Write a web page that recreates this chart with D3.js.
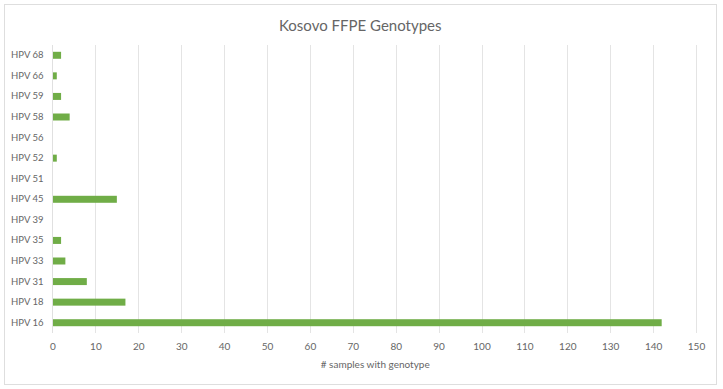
<!DOCTYPE html>
<html><head><meta charset="utf-8">
<script src="https://cdn.jsdelivr.net/npm/d3@7"></script>
<style>body{margin:0;background:#fff;} text{font-family:Lato,"Open Sans",sans-serif;}</style>
</head><body>
<svg id="c" width="723" height="389"></svg>
<script>
const categories = ["HPV 16","HPV 18","HPV 31","HPV 33","HPV 35","HPV 39","HPV 45","HPV 51","HPV 52","HPV 56","HPV 58","HPV 59","HPV 66","HPV 68"];
const values = [142,17,8,3,2,0,15,0,1,0,4,2,1,2];
const xTicks = [0,10,20,30,40,50,60,70,80,90,100,110,120,130,140,150];
const title = "Kosovo FFPE Genotypes";
const xTitle = "# samples with genotype";

(function(){
const svg = d3.select("#c");
const txt = "#666666";
svg.append("rect").attr("x",4.5).attr("y",4.5).attr("width",712).attr("height",380)
  .attr("fill","#fff").attr("stroke","#dedede");

const pL = 52.5, pR = 696, pT = 45, pB = 333;
const x = d3.scaleLinear().domain([0,150]).range([pL,pR]);
const y = d3.scaleBand().domain(categories.slice().reverse()).range([pT,pB]).paddingInner(0.66).paddingOuter(0.33);

svg.append("g").selectAll("line").data(xTicks.slice(1)).join("line")
  .attr("x1",d=>Math.round(x(d))+0.5).attr("x2",d=>Math.round(x(d))+0.5)
  .attr("y1",pT).attr("y2",pB).attr("stroke","#e4e4e4").attr("stroke-width",1);

svg.append("g").selectAll("rect").data(categories).join("rect")
  .attr("x",x(0)).attr("y",d=>y(d)).attr("width",(d,i)=>x(values[i])-x(0))
  .attr("height",y.bandwidth()).attr("fill","#70ad47");

svg.append("line").attr("x1",x(0)).attr("x2",x(0)).attr("y1",pT).attr("y2",pB).attr("stroke","#e0e0e0");

const xa = d3.axisBottom(x).tickValues(xTicks).tickSize(0).tickPadding(0);
const gx = svg.append("g").attr("transform",`translate(0,${pB+10})`).call(xa);
gx.select(".domain").remove();
gx.selectAll("text").attr("fill",txt).attr("font-size","10px").attr("font-family","Lato,'Open Sans',sans-serif");

const ya = d3.axisLeft(y).tickSize(0).tickPadding(9);
const gy = svg.append("g").attr("transform",`translate(${pL},0)`).call(ya);
gy.select(".domain").remove();
gy.selectAll("text").attr("fill",txt).attr("font-size","9.5px").attr("font-family","Lato,'Open Sans',sans-serif");

svg.append("text").attr("x",(pL+pR)/2-14).attr("y",31).attr("text-anchor","middle")
  .attr("fill",txt).attr("font-size","15px").text(title);
svg.append("text").attr("x",(pL+pR)/2+1).attr("y",368).attr("text-anchor","middle")
  .attr("fill",txt).attr("font-size","10px").text(xTitle);
})();
</script>
</body></html>
